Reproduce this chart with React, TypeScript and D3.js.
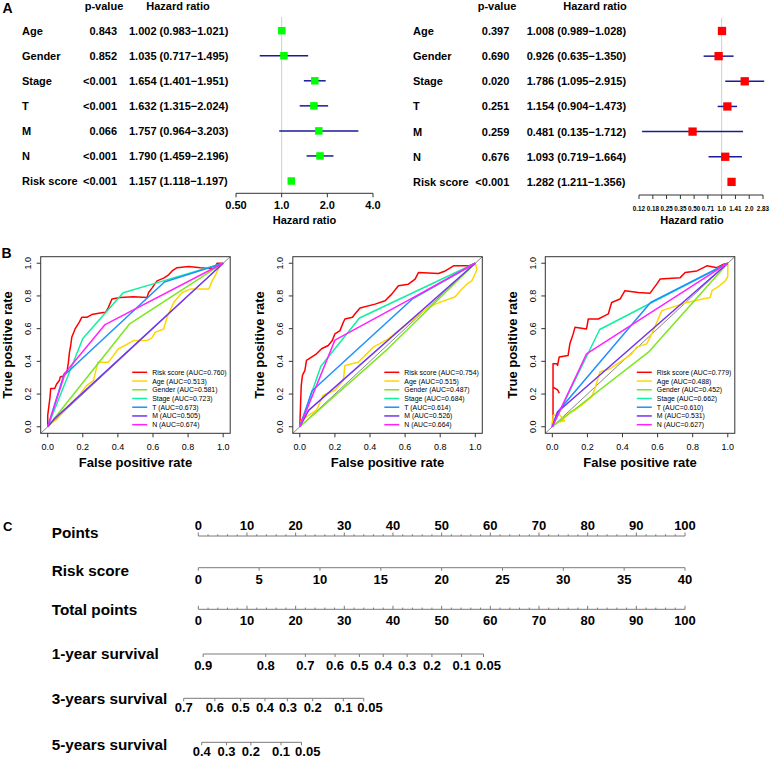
import React from "react";
import * as d3 from "d3";

const FONT = "'Liberation Sans', Arial, Helvetica, sans-serif";

// ---------- Panel A data ----------
const forestVars = ["Age", "Gender", "Stage", "T", "M", "N", "Risk score"];
const uniP = ["0.843", "0.852", "<0.001", "<0.001", "0.066", "<0.001", "<0.001"];
const uniHR = [1.002, 1.035, 1.654, 1.632, 1.757, 1.79, 1.157];
const uniLo = [0.983, 0.717, 1.401, 1.315, 0.964, 1.459, 1.118];
const uniHi = [1.021, 1.495, 1.951, 2.024, 3.203, 2.196, 1.197];
const multiP = ["0.397", "0.690", "0.020", "0.251", "0.259", "0.676", "<0.001"];
const multiHR = [1.008, 0.926, 1.786, 1.154, 0.481, 1.093, 1.282];
const multiLo = [0.989, 0.635, 1.095, 0.904, 0.135, 0.719, 1.211];
const multiHi = [1.028, 1.35, 2.915, 1.473, 1.712, 1.664, 1.356];
const uniTicks = [0.5, 1, 2, 4];
const uniTickLabels = ["0.50", "1.0", "2.0", "4.0"];
const multiTicks = [0.125, 0.177, 0.25, 0.354, 0.5, 0.707, 1, 1.414, 2, 2.828];
const multiTickLabels = ["0.12", "0.18", "0.25", "0.35", "0.50", "0.71", "1.0", "1.41", "2.0", "2.83"];

// ---------- Panel B data ----------
type Pt = [number, number] | null;
const rocNames = ["Risk score", "Age", "Gender", "Stage", "T", "M", "N"];
const rocColors = ["#FF0000", "#FFD700", "#7CE621", "#10F0A0", "#1E90FF", "#7034F0", "#FF22FF"];
const auc1 = ["0.760", "0.513", "0.581", "0.723", "0.673", "0.505", "0.674"];
const auc2 = ["0.754", "0.515", "0.487", "0.684", "0.614", "0.526", "0.664"];
const auc3 = ["0.779", "0.488", "0.452", "0.662", "0.610", "0.531", "0.627"];
const rocTicks = [0, 0.2, 0.4, 0.6, 0.8, 1.0];

const roc1Risk: Pt[] = [[0,0],[0,0.07],[0.013,0.18],[0.017,0.234],[0.04,0.234],[0.05,0.26],[0.067,0.284],[0.071,0.304],[0.09,0.31],[0.095,0.325],[0.11,0.335],[0.118,0.395],[0.124,0.456],[0.131,0.497],[0.137,0.547],[0.156,0.598],[0.18,0.64],[0.194,0.669],[0.223,0.669],[0.251,0.686],[0.299,0.696],[0.33,0.7],[0.346,0.73],[0.366,0.781],[0.413,0.791],[0.489,0.795],[0.566,0.791],[0.575,0.821],[0.594,0.848],[0.623,0.892],[0.661,0.909],[0.689,0.929],[0.709,0.953],[0.737,0.973],[0.804,0.98],[0.87,0.973],[0.946,0.967],[0.966,1.0],[1,1]];
const roc1Age: Pt[] = [[0,0],[0.02,0.02],[0.051,0.045],[0.12,0.13],[0.185,0.199],[0.22,0.25],[0.261,0.284],[0.286,0.395],[0.346,0.395],[0.403,0.477],[0.44,0.497],[0.489,0.527],[0.566,0.527],[0.594,0.544],[0.613,0.578],[0.661,0.598],[0.68,0.669],[0.718,0.76],[0.766,0.821],[0.813,0.842],[0.918,0.842],[0.937,0.892],[0.954,0.923],[0.966,0.953],[0.99,1.0],[1,1]];
const roc1Gender: Pt[] = [[0,0],[0.465,0.627],[1,1]];
const roc1Stage: Pt[] = [[0,0],[0.2,0.54],[0.43,0.82],[0.62,0.88],[1,1]];
const roc1T: Pt[] = [[0,0],[0.09,0.31],[0.665,0.885],[1,1]];
const roc1M: Pt[] = [[0,0],[0.04,0.05],[1,1]];
const roc1N: Pt[] = [[0,0],[0.1,0.33],[0.327,0.625],[1,1]];

const roc2Risk: Pt[] = [[0,0],[0.004,0.132],[0.008,0.25],[0.015,0.314],[0.029,0.345],[0.038,0.406],[0.067,0.426],[0.095,0.446],[0.124,0.477],[0.162,0.497],[0.185,0.527],[0.2,0.568],[0.229,0.588],[0.248,0.639],[0.257,0.659],[0.3,0.67],[0.314,0.69],[0.343,0.726],[0.429,0.75],[0.486,0.771],[0.524,0.811],[0.562,0.862],[0.619,0.872],[0.657,0.903],[0.676,0.943],[0.79,0.937],[0.829,0.953],[0.876,0.984],[0.962,0.984],[1,1]];
const roc2Age: Pt[] = [[0,0],[0.01,0.04],[0.05,0.07],[0.095,0.101],[0.133,0.193],[0.2,0.223],[0.248,0.284],[0.257,0.375],[0.333,0.395],[0.419,0.487],[0.505,0.538],[0.562,0.588],[0.65,0.66],[0.72,0.72],[0.771,0.75],[0.886,0.795],[0.914,0.832],[0.952,0.872],[0.98,0.892],[1.01,0.96],[1,1]];
const roc2Gender: Pt[] = [[0,0],[0.5,0.475],[1,1]];
const roc2Stage: Pt[] = [[0,0],[0.12,0.37],[0.34,0.665],[1,1]];
const roc2T: Pt[] = [[0,0],[0.07,0.22],[0.64,0.78],[1,1]];
const roc2M: Pt[] = [[0,0],[0.05,0.1],[1,1]];
const roc2N: Pt[] = [[0,0],[0.2,0.53],[0.63,0.78],[1,1]];

const roc3Risk: Pt[] = [[0,0],[0.004,0.07],[0.004,0.386],[0.025,0.386],[0.03,0.375],[0.039,0.426],[0.09,0.436],[0.1,0.507],[0.119,0.568],[0.129,0.608],[0.195,0.598],[0.205,0.659],[0.262,0.659],[0.3,0.68],[0.319,0.69],[0.338,0.76],[0.386,0.781],[0.414,0.832],[0.49,0.821],[0.557,0.817],[0.595,0.872],[0.614,0.903],[0.729,0.912],[0.757,0.943],[0.824,0.953],[0.881,0.984],[0.938,0.973],[0.976,0.994],[1,1],null,[0.004,0.243],[0.03,0.225],[0.04,0.205]];
const roc3Age: Pt[] = [[0,0],[0.005,0.07],[0.04,0.075],[0.07,0.035],[0.045,0.03],[0.1,0.09],[0.129,0.101],[0.167,0.132],[0.224,0.183],[0.243,0.233],[0.271,0.335],[0.329,0.355],[0.386,0.395],[0.452,0.446],[0.481,0.487],[0.538,0.507],[0.567,0.568],[0.6,0.65],[0.624,0.71],[0.681,0.73],[0.767,0.76],[0.85,0.78],[0.9,0.791],[0.91,0.832],[0.95,0.86],[0.986,0.892],[1.0,0.92],[1,1]];
const roc3Gender: Pt[] = [[0,0],[0.548,0.456],[1,1]];
const roc3Stage: Pt[] = [[0,0],[0.27,0.595],[1,1]];
const roc3T: Pt[] = [[0,0],[0.03,0.09],[0.56,0.76],[1,1]];
const roc3M: Pt[] = [[0,0],[0.03,0.09],[1,1]];
const roc3N: Pt[] = [[0,0],[0.195,0.446],[1,1]];

// ---------- Panel C data ----------
const pointsTicks = [0, 10, 20, 30, 40, 50, 60, 70, 80, 90, 100];
const riskTicks = [0, 5, 10, 15, 20, 25, 30, 35, 40];
const surv1Labels = ["0.9", "0.8", "0.7", "0.6", "0.5", "0.4", "0.3", "0.2", "0.1", "0.05"];
const surv1Pts = [1.0, 13.85, 22.0, 28.1, 33.1, 38.0, 42.9, 48.0, 54.1, 58.6];
const surv3Labels = ["0.7", "0.6", "0.5", "0.4", "0.3", "0.2", "0.1", "0.05"];
const surv3Pts = [-3.0, 3.4, 8.7, 13.7, 18.3, 23.5, 29.8, 34.0];
const surv5Labels = ["0.4", "0.3", "0.2", "0.1", "0.05"];
const surv5Pts = [0.7, 5.8, 10.8, 17.0, 21.2];

const fmt3 = (v: number) => v.toFixed(3);

type ForestCfg = {
  labelX: number; pRightX: number; hrX: number; headPX: number; headHX: number; headY: number;
  rowY0: number; rowStep: number; domain: [number, number]; range: [number, number];
  axisY: number; refTop: number; tickLabelY: number; tickFont: number; titleX: number; titleY: number;
  boxColor: string; boxSize: number; ticks: number[]; tickLabels: string[];
};

function Forest({ cfg, pv, hr, lo, hi }: { cfg: ForestCfg; pv: string[]; hr: number[]; lo: number[]; hi: number[] }) {
  const x = d3.scaleLog().base(2).domain(cfg.domain).range(cfg.range);
  const rowY = (i: number) => cfg.rowY0 + i * cfg.rowStep;
  return (
    <g fontWeight="bold" fontSize={11}>
      <text x={cfg.headPX} y={cfg.headY} textAnchor="middle">p-value</text>
      <text x={cfg.headHX} y={cfg.headY} textAnchor="middle">Hazard ratio</text>
      {forestVars.map((v, i) => (
        <g key={v}>
          <text x={cfg.labelX} y={rowY(i) + 4}>{v}</text>
          <text x={cfg.pRightX} y={rowY(i) + 4} textAnchor="end">{pv[i]}</text>
          <text x={cfg.hrX} y={rowY(i) + 4}>{`${fmt3(hr[i])} (${fmt3(lo[i])}\u2212${fmt3(hi[i])})`}</text>
        </g>
      ))}
      <line x1={x(1)} x2={x(1)} y1={cfg.refTop} y2={cfg.axisY} stroke="#cfcfcf" strokeWidth={1} />
      {forestVars.map((v, i) => (
        <line key={"ci" + v} x1={x(lo[i])} x2={x(hi[i])} y1={rowY(i)} y2={rowY(i)} stroke="#1a1a9a" strokeWidth={1.5} />
      ))}
      {forestVars.map((v, i) => (
        <rect key={"bx" + v} x={x(hr[i]) - cfg.boxSize / 2} y={rowY(i) - cfg.boxSize / 2} width={cfg.boxSize} height={cfg.boxSize} fill={cfg.boxColor} />
      ))}
      <line x1={cfg.range[0]} x2={cfg.range[1]} y1={cfg.axisY} y2={cfg.axisY} stroke="#333" strokeWidth={1} />
      {cfg.ticks.map((t, i) => (
        <g key={"t" + i}>
          <line x1={x(t)} x2={x(t)} y1={cfg.axisY} y2={cfg.axisY + 4} stroke="#333" strokeWidth={1} />
          <text x={x(t)} y={cfg.tickLabelY} textAnchor="middle" fontSize={cfg.tickFont}>{cfg.tickLabels[i]}</text>
        </g>
      ))}
      <text x={cfg.titleX} y={cfg.titleY} textAnchor="middle" fontSize={11}>Hazard ratio</text>
    </g>
  );
}

function Roc({ left, curves, aucs }: { left: number; curves: Pt[][]; aucs: string[] }) {
  const w = 189.5, top = 256.7, bottom = 433.3;
  const x = d3.scaleLinear().domain([-0.04, 1.04]).range([left, left + w]);
  const y = d3.scaleLinear().domain([-0.04, 1.04]).range([bottom, top]);
  const line = d3.line<Pt>().defined((d) => d !== null).x((d) => x((d as [number, number])[0])).y((d) => y((d as [number, number])[1]));
  const legX = left + 91.5;
  return (
    <g>
      <line x1={x(-0.04)} y1={y(-0.04)} x2={x(1.04)} y2={y(1.04)} stroke="#888" strokeWidth={1} />
      {curves.map((c, i) => (
        <path key={i} d={line(c) || ""} fill="none" stroke={rocColors[i]} strokeWidth={1.5} strokeLinejoin="round" />
      ))}
      <rect x={left} y={top} width={w} height={bottom - top} fill="none" stroke="#333" strokeWidth={1} />
      {rocTicks.map((t) => (
        <g key={"x" + t}>
          <line x1={x(t)} x2={x(t)} y1={bottom} y2={bottom + 4} stroke="#333" />
          <text x={x(t)} y={450} textAnchor="middle" fontSize={9}>{t.toFixed(1)}</text>
          <line x1={left} x2={left - 4} y1={y(t)} y2={y(t)} stroke="#333" />
          <text transform={`translate(${left - 12.5},${y(t)}) rotate(-90)`} textAnchor="middle" dominantBaseline="central" fontSize={9}>{t.toFixed(1)}</text>
        </g>
      ))}
      <text x={left + w / 2} y={467} textAnchor="middle" fontWeight="bold" fontSize={13}>False positive rate</text>
      <text transform={`translate(${left - 33},${(top + bottom) / 2}) rotate(-90)`} textAnchor="middle" dominantBaseline="central" fontWeight="bold" fontSize={13}>True positive rate</text>
      {rocNames.map((n, i) => (
        <g key={"lg" + n}>
          <line x1={legX} x2={legX + 15} y1={372.3 + i * 8.73} y2={372.3 + i * 8.73} stroke={rocColors[i]} strokeWidth={1.5} />
          <text x={legX + 20} y={372.3 + i * 8.73} dominantBaseline="central" fontSize={6.9}>{`${n} (AUC=${aucs[i]})`}</text>
        </g>
      ))}
    </g>
  );
}

const TICK_FS = 13;
const labelWidth = (s: string) => [...s].reduce((a, c) => a + (c === "." ? 0.278 : 0.556), 0) * TICK_FS;
// spread labels that would collide, keeping them in order
function spreadLabels(xs: number[], labels: string[], gap: number) {
  const out = xs.slice();
  for (let i = 1; i < out.length; i++) {
    const minC = out[i - 1] + labelWidth(labels[i - 1]) / 2 + gap + labelWidth(labels[i]) / 2;
    if (out[i] < minC) out[i] = minC;
  }
  return out;
}

function Nomogram() {
  const px = d3.scaleLinear().domain([0, 100]).range([198.3, 685]);
  const rx = d3.scaleLinear().domain([0, 40]).range([198.3, 685]);
  const minor = d3.range(0, 101, 2).filter((v) => v % 10 !== 0);
  const gray = "#7a7a7a";
  const LFS = 15.3;
  const survRows = [
    { label: "1-year survival", labY: 658.5, lineY: 654, tickY: 670, labels: surv1Labels, pts: surv1Pts },
    { label: "3-years survival", labY: 704, lineY: 698.3, tickY: 711.7, labels: surv3Labels, pts: surv3Pts },
    { label: "5-years survival", labY: 750, lineY: 742.3, tickY: 756, labels: surv5Labels, pts: surv5Pts },
  ];
  return (
    <g fontWeight="bold">
      <text x={51.7} y={538} fontSize={LFS}>Points</text>
      <line x1={px(0)} x2={px(100)} y1={536} y2={536} stroke={gray} />
      {pointsTicks.map((t) => (
        <g key={"p" + t}>
          <line x1={px(t)} x2={px(t)} y1={536} y2={532.5} stroke={gray} />
          <text x={px(t)} y={530} textAnchor="middle" fontSize={TICK_FS}>{t}</text>
        </g>
      ))}
      {minor.map((t) => (
        <line key={"pm" + t} x1={px(t)} x2={px(t)} y1={536} y2={534.3} stroke={gray} />
      ))}

      <text x={51.7} y={576} fontSize={LFS}>Risk score</text>
      <line x1={rx(0)} x2={rx(40)} y1={567.7} y2={567.7} stroke={gray} />
      {riskTicks.map((t) => (
        <g key={"r" + t}>
          <line x1={rx(t)} x2={rx(t)} y1={567.7} y2={570.7} stroke={gray} />
          <text x={rx(t)} y={583.5} textAnchor="middle" fontSize={TICK_FS}>{t}</text>
        </g>
      ))}

      <text x={51.7} y={614.5} fontSize={LFS}>Total points</text>
      <line x1={px(0)} x2={px(100)} y1={609.3} y2={609.3} stroke={gray} />
      {pointsTicks.map((t) => (
        <g key={"tp" + t}>
          <line x1={px(t)} x2={px(t)} y1={609.3} y2={605.8} stroke={gray} />
          <text x={px(t)} y={625} textAnchor="middle" fontSize={TICK_FS}>{t}</text>
        </g>
      ))}
      {minor.map((t) => (
        <line key={"tm" + t} x1={px(t)} x2={px(t)} y1={609.3} y2={607.6} stroke={gray} />
      ))}

      {survRows.map((r) => {
        const xs = r.pts.map((p) => px(p));
        const lx = spreadLabels(xs, r.labels, 5);
        return (
          <g key={r.label}>
            <text x={51.7} y={r.labY} fontSize={LFS}>{r.label}</text>
            <line x1={xs[0]} x2={xs[xs.length - 1]} y1={r.lineY} y2={r.lineY} stroke={gray} />
            {xs.map((xv, i) => (
              <g key={r.label + i}>
                <line x1={xv} x2={xv} y1={r.lineY} y2={r.lineY + 3} stroke={gray} />
                <text x={lx[i]} y={r.tickY} textAnchor="middle" fontSize={TICK_FS}>{r.labels[i]}</text>
              </g>
            ))}
          </g>
        );
      })}
    </g>
  );
}

const leftCfg: ForestCfg = {
  labelX: 22, pRightX: 117, hrX: 129, headPX: 104, headHX: 178, headY: 9.7,
  rowY0: 30.7, rowStep: 25.05, domain: [0.5, 4], range: [236, 373],
  axisY: 193.3, refTop: 17, tickLabelY: 209, tickFont: 11, titleX: 304.5, titleY: 223.5,
  boxColor: "#00FF00", boxSize: 7.5, ticks: uniTicks, tickLabels: uniTickLabels,
};
const rightCfg: ForestCfg = {
  labelX: 413, pRightX: 509.3, hrX: 526.7, headPX: 497, headHX: 595, headY: 9.7,
  rowY0: 31, rowStep: 25.15, domain: [0.125, 2.828], range: [639, 763],
  axisY: 195, refTop: 18, tickLabelY: 210.5, tickFont: 6.3, titleX: 692, titleY: 223.5,
  boxColor: "#FF0000", boxSize: 8.3, ticks: multiTicks, tickLabels: multiTickLabels,
};

export default function App() {
  return (
    <svg width={770} height={758} style={{ position: "absolute", left: 0, top: 0 }} fontFamily={FONT}>
      <rect width={770} height={758} fill="#ffffff" />
      <text x={2.5} y={12.7} fontWeight="bold" fontSize={14}>A</text>
      <text x={1.5} y={258} fontWeight="bold" fontSize={14}>B</text>
      <text x={3} y={530.5} fontWeight="bold" fontSize={13}>C</text>
      <Forest cfg={leftCfg} pv={uniP} hr={uniHR} lo={uniLo} hi={uniHi} />
      <Forest cfg={rightCfg} pv={multiP} hr={multiHR} lo={multiLo} hi={multiHi} />
      <Roc left={40.7} curves={[roc1Risk, roc1Age, roc1Gender, roc1Stage, roc1T, roc1M, roc1N]} aucs={auc1} />
      <Roc left={292.8} curves={[roc2Risk, roc2Age, roc2Gender, roc2Stage, roc2T, roc2M, roc2N]} aucs={auc2} />
      <Roc left={545.3} curves={[roc3Risk, roc3Age, roc3Gender, roc3Stage, roc3T, roc3M, roc3N]} aucs={auc3} />
      <Nomogram />
    </svg>
  );
}
